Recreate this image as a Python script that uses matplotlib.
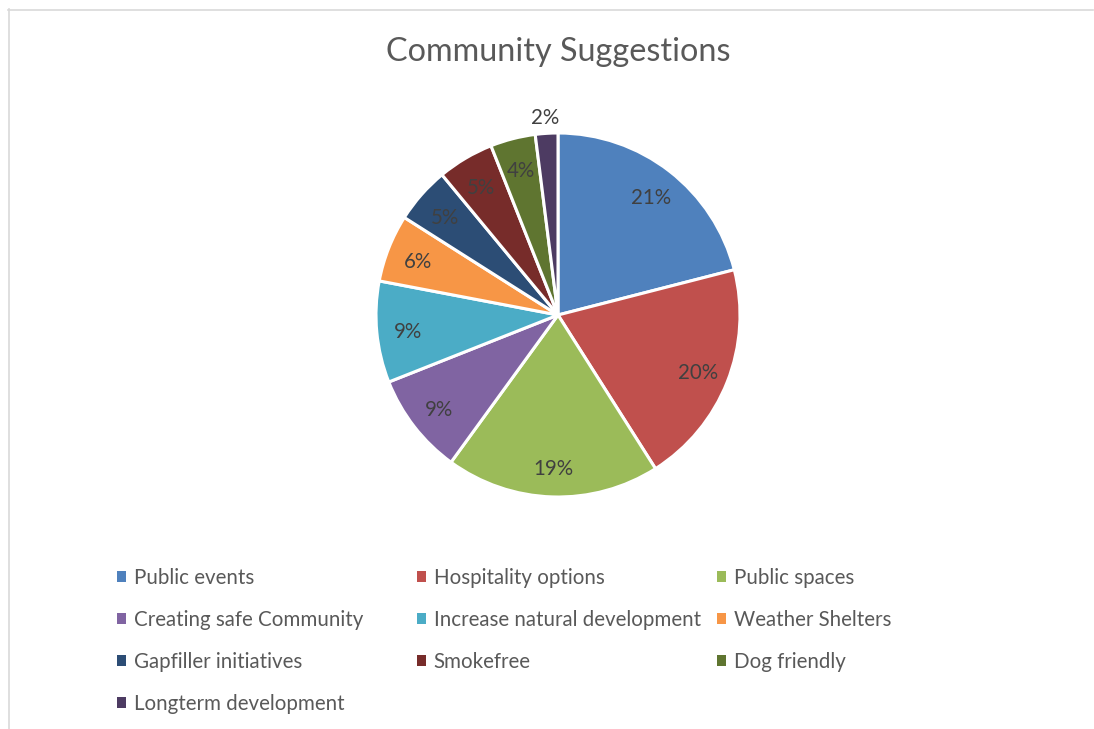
import matplotlib
matplotlib.use("Agg")
import matplotlib.pyplot as plt
from matplotlib.patches import Patch
from matplotlib.lines import Line2D
import numpy as np

categories = ["Public events", "Hospitality options", "Public spaces",
              "Creating safe Community", "Increase natural development",
              "Weather Shelters", "Gapfiller initiatives", "Smokefree",
              "Dog friendly", "Longterm development"]
values = [21, 20, 19, 9, 9, 6, 5, 5, 4, 2]
colors = ["#4F81BD", "#C0504D", "#9BBB59", "#8064A2", "#4BACC6",
          "#F79646", "#2C4D75", "#772C2A", "#5F7530", "#4D3B62"]
title = "Community Suggestions"

W, H = 1094, 729
plt.rcParams['font.family'] = ['Lato', 'DejaVu Sans']
fig = plt.figure(figsize=(W / 100, H / 100), dpi=100)
fig.patch.set_facecolor("white")

cx, cy, r = 558, 315, 182
ax = fig.add_axes([(cx - r) / W, (H - cy - r) / H, 2 * r / W, 2 * r / H])
wedges, _ = ax.pie(values, colors=colors, startangle=90, counterclock=False,
                   wedgeprops=dict(edgecolor="white", linewidth=2.2),
                   radius=1.0)
ax.set_xlim(-1, 1)
ax.set_ylim(-1, 1)
ax.set_aspect("auto")
ax.axis("off")

total = sum(values)
for w, v in zip(wedges, values):
    mid = np.deg2rad((w.theta1 + w.theta2) / 2)
    dist = 0.83 if v / total >= 0.03 else 1.1
    ax.text(dist * np.cos(mid), dist * np.sin(mid) - 0.015,
            f"{v / total * 100:.0f}%",
            ha="center", va="center", fontsize=14.8, color="#404040")

fig.text(cx / W, 1 - 52 / H, title, ha="center", va="center",
         fontsize=23.3, color="#595959")

# legend: 3 columns, row-major order
col_x = [117, 417, 717]
ncol = 3
for c in range(ncol):
    idx = list(range(c, len(categories), ncol))
    handles = [Patch(facecolor=colors[i], edgecolor="none") for i in idx]
    labels = [categories[i] for i in idx]
    leg = fig.legend(handles, labels, loc="upper left",
                     bbox_to_anchor=(col_x[c] / W, 1 - 568 / H),
                     frameon=False, fontsize=14.8, handlelength=0.42,
                     handleheight=0.42, handletextpad=0.4,
                     labelspacing=1.07, borderpad=0, borderaxespad=0)
    for t in leg.get_texts():
        t.set_color("#595959")

# chart area border (top & left)
fig.add_artist(Line2D([8 / W, 1093 / W], [1 - 9.5 / H, 1 - 9.5 / H],
                      transform=fig.transFigure, color="#D9D9D9", linewidth=1.2))
fig.add_artist(Line2D([8.5 / W, 8.5 / W], [1 - 9 / H, 0],
                      transform=fig.transFigure, color="#D9D9D9", linewidth=1.2))

fig.savefig("out.png", dpi=100, facecolor="white")
